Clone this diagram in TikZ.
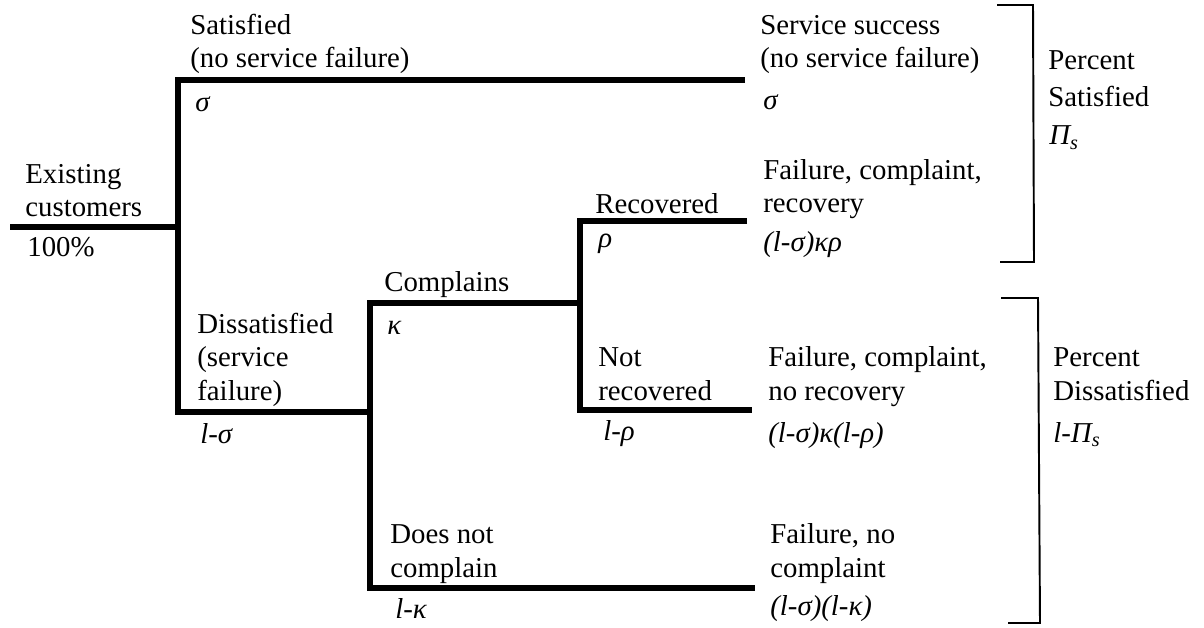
\documentclass[tikz,border=0pt]{standalone}
\usepackage{fontspec}
\setmainfont{Liberation Serif}

\begin{document}
\begin{tikzpicture}[x=0.02cm,y=-0.02cm,line join=miter,
  branch/.style={line width=2.9pt},
  bracket/.style={line width=1.1pt},
  lbl/.style={anchor=base west,inner sep=0pt,align=left,font=\fontsize{16.4}{18.8}\selectfont},
  prob/.style={lbl,font=\fontsize{16.4}{18.8}\selectfont\itshape}]
  \useasboundingbox (0,0) rectangle (1204,628);
  \clip (0,0) rectangle (1204,628);

  % tree junctions and branch ends
  \coordinate (root) at (10,227);
  \coordinate (j0) at (178,227);
  \coordinate (sat) at (745,80);
  \coordinate (dis) at (370,412);
  \coordinate (com) at (580,303);
  \coordinate (ncom) at (755,588);
  \coordinate (rec) at (747,221);
  \coordinate (nrec) at (752,410);

  \draw[branch] (root)--(j0);
  \draw[branch] (sat) -| (j0) |- (dis);
  \draw[branch] (com) -| (dis) |- (ncom);
  \draw[branch] (rec) -| (com) |- (nrec);

  % brackets
  \draw[bracket] (997,5)--(1033,5)--(1034,262)--(1000,262);
  \draw[bracket] (1001,298)--(1038,298)--(1040,623)--(1008,623);

  % branch labels (base = last line)
  \node[lbl] (existing) at (25,217) {Existing\\customers};
  \node[lbl] (total) at (27,257) {100\%};
  \node[lbl] (satisfied) at (190,68) {Satisfied\\(no service failure)};
  \node[prob] (psat) at (195,112) {σ};
  \node[lbl] (dissat) at (197,400) {Dissatisfied\\(service\\failure)};
  \node[prob] (pdis) at (200,443) {l-σ};
  \node[lbl] (complains) at (384,292) {Complains};
  \node[prob] (pcom) at (387,335) {κ};
  \node[lbl] (nocomplain) at (390,577) {Does not\\complain};
  \node[prob] (pnocom) at (395,618) {l-κ};
  \node[lbl] (recovered) at (595,214) {Recovered};
  \node[prob] (prec) at (598,248) {ρ};
  \node[lbl] (notrec) at (598,400) {Not\\recovered};
  \node[prob] (pnotrec) at (603,440) {l-ρ};

  % outcomes
  \node[lbl] (success) at (760,68) {Service success\\(no service failure)};
  \node[prob] (osuccess) at (763,110) {σ};
  \node[lbl] (recovery) at (763,213) {Failure, complaint,\\recovery};
  \node[prob] (orecovery) at (763,252) {(l-σ)κρ};
  \node[lbl] (norecovery) at (768,400) {Failure, complaint,\\no recovery};
  \node[prob] (onorecovery) at (768,442) {(l-σ)κ(l-ρ)};
  \node[lbl] (nocomplaint) at (770,577) {Failure, no\\complaint};
  \node[prob] (onocomplaint) at (770,615) {(l-σ)(l-κ)};

  % totals
  \node[lbl,font=\fontsize{16.4}{21.6}\selectfont] (pctsat) at (1048,107) {Percent\\Satisfied};
  \node[prob] (pisat) at (1049,145) {Π\textsubscript{s}};
  \node[lbl] (pctdis) at (1053,400) {Percent\\Dissatisfied};
  \node[prob] (pidis) at (1053,442) {l-Π\textsubscript{s}};
\end{tikzpicture}
\end{document}
